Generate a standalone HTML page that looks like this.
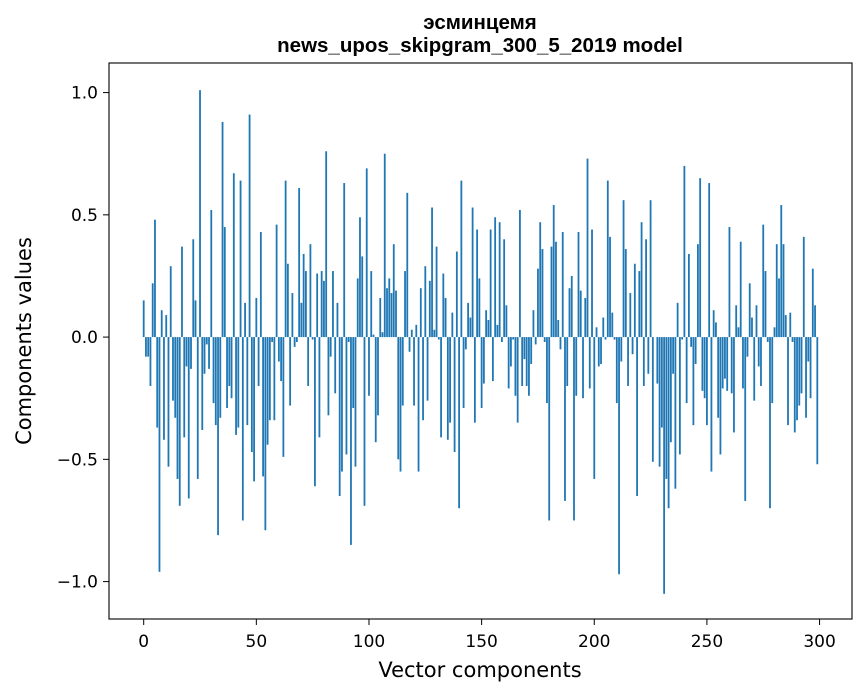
<!DOCTYPE html>
<html><head><meta charset="utf-8">
<style>
body{margin:0;background:#fff;}
svg{display:block;font-family:"DejaVu Sans","Liberation Sans",sans-serif;}
</style></head>
<body>
<svg id="chart" width="867" height="696" viewBox="0 0 867 696" xmlns="http://www.w3.org/2000/svg">
<rect x="0" y="0" width="867" height="696" fill="#fff"/>
<text x="480" y="29" text-anchor="middle" font-size="20.5" font-weight="bold" font-family="Liberation Sans, sans-serif">эсминцемя</text>
<text x="480" y="52" text-anchor="middle" font-size="20.5" font-weight="bold" font-family="Liberation Sans, sans-serif">news_upos_skipgram_300_5_2019 model</text>
<g id="bars"></g>
<g id="axes"></g>
<rect x="109" y="63" width="743" height="556" fill="none" stroke="#000" stroke-width="1.1"/>
<text x="480" y="677" text-anchor="middle" font-size="21">Vector components</text>
<text x="31" y="341" text-anchor="middle" font-size="21" transform="rotate(-90 31 341)">Components values</text>
</svg>
<script>
const values = [
0.15,-0.08,-0.08,-0.20,0.22,0.48,-0.37,-0.96,0.11,-0.42,
0.09,-0.53,0.29,-0.26,-0.33,-0.58,-0.69,0.37,-0.41,-0.12,
-0.66,-0.13,0.40,0.15,-0.58,1.01,-0.38,-0.15,-0.03,-0.13,
0.52,-0.27,-0.36,-0.81,-0.33,0.88,0.45,-0.29,-0.20,-0.25,
0.67,-0.40,-0.37,0.64,-0.75,0.14,-0.36,0.91,-0.47,-0.59,
0.16,-0.20,0.43,-0.57,-0.79,-0.44,-0.34,-0.02,-0.34,0.46,
-0.10,-0.18,-0.49,0.64,0.30,-0.28,0.18,-0.04,-0.02,0.61,
0.14,0.34,0.27,-0.20,0.38,-0.01,-0.61,0.26,-0.41,0.27,
0.23,0.76,-0.32,-0.08,0.27,-0.23,0.14,-0.65,-0.55,0.63,
-0.48,-0.02,-0.85,-0.29,-0.53,0.24,0.49,0.33,-0.69,0.69,
-0.24,0.27,0.01,-0.43,-0.32,0.16,0.02,0.75,0.20,0.24,
0.18,0.38,0.19,-0.50,-0.55,-0.28,0.27,0.59,-0.06,0.03,
-0.28,0.05,-0.55,0.20,-0.34,0.29,-0.26,0.23,0.53,0.03,
0.37,-0.01,-0.41,0.26,0.16,-0.42,-0.35,0.10,-0.47,0.35,
-0.70,0.64,-0.29,-0.05,0.14,0.08,0.53,-0.35,0.44,0.24,
-0.29,-0.19,0.11,0.07,0.44,-0.18,0.49,0.05,0.47,-0.02,
0.40,0.13,-0.21,-0.12,-0.01,-0.24,-0.35,0.52,-0.20,-0.09,
-0.20,-0.24,-0.11,0.11,-0.03,0.28,0.47,0.36,-0.02,-0.27,
-0.75,0.37,0.54,0.39,0.07,-0.05,0.43,-0.67,-0.20,0.20,
0.25,-0.75,-0.24,0.43,0.19,-0.25,0.16,0.73,-0.21,0.44,
-0.58,0.04,-0.12,-0.11,0.08,-0.01,0.64,0.41,0.10,-0.01,
-0.27,-0.97,-0.10,0.56,0.36,-0.20,0.18,-0.07,0.30,-0.65,
0.27,0.47,-0.20,0.40,-0.15,0.56,-0.51,0.00,-0.19,-0.53,
-0.37,-1.05,-0.58,-0.70,-0.43,-0.15,-0.62,0.14,-0.48,-0.01,
0.70,-0.27,0.34,-0.04,-0.36,-0.11,0.38,0.65,-0.22,-0.25,
-0.36,0.63,-0.55,0.11,0.06,-0.33,-0.48,-0.21,-0.17,-0.22,
0.45,-0.23,-0.39,0.13,0.04,0.39,-0.21,-0.67,-0.08,0.22,
0.08,-0.26,0.13,-0.12,-0.20,0.46,0.27,-0.02,-0.70,-0.27,
0.04,0.38,0.24,0.54,0.38,0.09,-0.36,0.10,-0.02,-0.39,
-0.34,-0.28,-0.23,0.41,-0.33,-0.10,-0.25,0.28,0.13,-0.52
];
const xTicks = [0,50,100,150,200,250,300];
const yTicks = [-1.0,-0.5,0.0,0.5,1.0];
const yTickLabels = ["\u22121.0","\u22120.5","0.0","0.5","1.0"];

const PL=109, PR=852, PT=63, PB=619;
const XMIN=-15.4, XMAX=314.4, YMIN=-1.153, YMAX=1.121;
const sx = v => PL + (v-XMIN)/(XMAX-XMIN)*(PR-PL);
const sy = v => PB - (v-YMIN)/(YMAX-YMIN)*(PB-PT);
const NS="http://www.w3.org/2000/svg";
const bars=document.getElementById('bars');
values.forEach((v,i)=>{
  const r=document.createElementNS(NS,'rect');
  
  
  const x0=sx(i-0.4), x1=sx(i+0.4);
  const y0=sy(Math.max(v,0)), y1=sy(Math.min(v,0));
  r.setAttribute('x',x0);
  r.setAttribute('width',x1-x0);
  r.setAttribute('y',y0);
  r.setAttribute('height',Math.max(y1-y0,0.01));
  r.setAttribute('fill','#1f77b4');
  bars.appendChild(r);
});
const axes=document.getElementById('axes');
xTicks.forEach(t=>{
  const x=sx(t);
  const l=document.createElementNS(NS,'line');
  
  
  l.setAttribute('x1',x);l.setAttribute('x2',x);
  l.setAttribute('y1',PB);l.setAttribute('y2',PB+6);
  l.setAttribute('stroke','#000');
  axes.appendChild(l);
  const tx=document.createElementNS(NS,'text');
  
  
  tx.setAttribute('x',x);tx.setAttribute('y',PB+28);
  tx.setAttribute('text-anchor','middle');
  tx.setAttribute('font-size','17');
  tx.textContent=String(t);
  axes.appendChild(tx);
});
yTicks.forEach((t,k)=>{
  const y=sy(t);
  const l=document.createElementNS(NS,'line');
  
  
  l.setAttribute('x1',PL-6);l.setAttribute('x2',PL);
  l.setAttribute('y1',y);l.setAttribute('y2',y);
  l.setAttribute('stroke','#000');
  axes.appendChild(l);
  const tx=document.createElementNS(NS,'text');
  
  
  tx.setAttribute('x',PL-11);tx.setAttribute('y',y+6);
  tx.setAttribute('text-anchor','end');
  tx.setAttribute('font-size','17');
  tx.textContent=yTickLabels[k];
  axes.appendChild(tx);
});
</script>
</body></html>
